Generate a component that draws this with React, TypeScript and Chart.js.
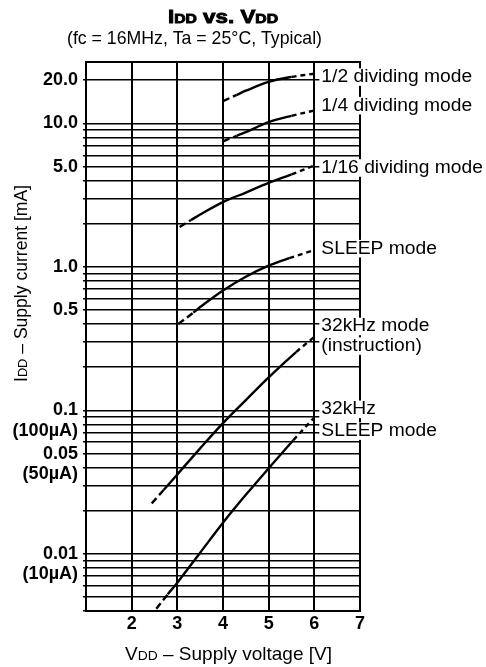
import React, { useEffect, useRef } from 'react';
import { Chart, registerables } from 'chart.js';

Chart.register(...registerables);

const FONT = '"Liberation Sans", Arial, Helvetica, sans-serif';

// Supply voltage VDD [V] and supply current IDD [mA]
const div2Voltage = [4.0, 4.3, 4.5, 5.0, 5.5, 6.0];
const div2Current = [14.3, 15.8, 16.9, 19.5, 21.1, 22.2];

const div4Voltage = [4.0, 4.3, 4.5, 5.0, 5.5, 6.0];
const div4Current = [7.5, 8.2, 8.7, 10.2, 11.3, 12.3];

const div16Voltage = [3.05, 3.3, 3.5, 4.0, 4.5, 5.0, 5.5, 6.0];
const div16Current = [1.9, 2.12, 2.32, 2.83, 3.3, 3.85, 4.41, 5.1];

const sleepVoltage = [3.02, 3.35, 3.5, 4.0, 4.5, 5.0, 5.45, 6.0];
const sleepCurrent = [0.4, 0.48, 0.525, 0.685, 0.855, 1.02, 1.15, 1.31];

const k32Voltage = [2.44, 2.7, 3.0, 3.5, 4.0, 4.5, 5.0, 5.6, 6.0];
const k32Current = [0.0225, 0.0279, 0.0358, 0.0544, 0.0815, 0.118, 0.17, 0.255, 0.325];

const k32SleepVoltage = [2.54, 2.79, 3.0, 3.5, 4.0, 4.5, 5.0, 5.54, 6.0];
const k32SleepCurrent = [0.00414, 0.00523, 0.0063, 0.0102, 0.0165, 0.0258, 0.0395, 0.062, 0.0893];

const seriesNames = [
  '1/2 dividing mode',
  '1/4 dividing mode',
  '1/16 dividing mode',
  'SLEEP mode',
  '32kHz mode (instruction)',
  '32kHz SLEEP mode',
];

// Curve labels (lines) and the current level each line sits at
const noteLines = [
  ['1/2 dividing mode'],
  ['1/4 dividing mode'],
  ['1/16 dividing mode'],
  ['SLEEP mode'],
  ['32kHz mode', '(instruction)'],
  ['32kHz', 'SLEEP mode'],
];
const noteCurrents = [[21.5], [13.6], [5.0], [1.37], [0.393, 0.287], [0.104, 0.0733]];
const noteVoltage = 6;

// Axes
const voltageMin = 1;
const voltageMax = 7;
const voltageTickLabels = ['', '2', '3', '4', '5', '6', '7'];
const currentMin = 0.004;
const currentMax = 26.8;
const currentLabelValues = [20, 10, 5, 1, 0.5, 0.1, 0.05, 0.01];
const currentLabelLines = [
  ['20.0'],
  ['10.0'],
  ['5.0'],
  ['1.0'],
  ['0.5'],
  ['0.1', '(100µA)'],
  ['0.05', '(50µA)'],
  ['0.01', '(10µA)'],
];

type Piece = { t: string; s: number; b?: boolean };

function fontOf(p: Piece) {
  return `${p.b ? 'bold ' : ''}${p.s}px ${FONT}`;
}

function drawRich(
  ctx: CanvasRenderingContext2D,
  pieces: Piece[],
  x: number,
  y: number,
  align: 'left' | 'center',
  targetWidth?: number,
  scaleX?: number,
  stroke?: number
) {
  ctx.save();
  ctx.textBaseline = 'alphabetic';
  ctx.textAlign = 'left';
  const widths = pieces.map((p) => {
    ctx.font = fontOf(p);
    return ctx.measureText(p.t).width;
  });
  const total = widths.reduce((a, b) => a + b, 0);
  const sx = targetWidth ? targetWidth / total : scaleX || 1;
  const w = total * sx;
  const start = align === 'center' ? x - w / 2 : x;
  ctx.translate(start, y);
  ctx.scale(sx, 1);
  let cx = 0;
  ctx.fillStyle = '#000';
  ctx.strokeStyle = '#000';
  pieces.forEach((p, i) => {
    ctx.font = fontOf(p);
    ctx.fillText(p.t, cx, 0);
    if (stroke) {
      ctx.lineWidth = stroke;
      ctx.strokeText(p.t, cx, 0);
    }
    cx += widths[i];
  });
  ctx.restore();
  return w;
}

const textPlugin = {
  id: 'textPlugin',
  afterDatasetsDraw(chart: any) {
    const ctx: CanvasRenderingContext2D = chart.ctx;
    const { left, top, right, bottom } = chart.chartArea;
    // frame
    ctx.save();
    ctx.strokeStyle = '#000';
    ctx.lineWidth = 2;
    ctx.strokeRect(left, top, right - left, bottom - top);
    ctx.restore();

    // curve labels with white backdrop
    const xs = chart.scales.x;
    const ys = chart.scales.y;
    const size = 17.5;
    const sx = 1.1;
    const lx = xs.getPixelForValue(noteVoltage) + 7;
    noteLines.forEach((lines, i) => {
      lines.forEach((line, j) => {
        const cy = ys.getPixelForValue(noteCurrents[i][j]);
        const base = cy + 0.358 * size;
        ctx.save();
        ctx.font = `${size}px ${FONT}`;
        const w = ctx.measureText(line).width * sx;
        ctx.fillStyle = '#fff';
        ctx.fillRect(lx - 2, base - 0.78 * size, w + 4, size * 1.0);
        ctx.restore();
        drawRich(ctx, [{ t: line, s: size }], lx, base, 'left', undefined, sx);
      });
    });
  },
  afterDraw(chart: any) {
    const ctx: CanvasRenderingContext2D = chart.ctx;
    const { left, right } = chart.chartArea;
    // title
    drawRich(
      ctx,
      [
        { t: 'I', s: 18.5, b: true },
        { t: 'DD', s: 13, b: true },
        { t: ' vs. V', s: 18.5, b: true },
        { t: 'DD', s: 13, b: true },
      ],
      (left + right) / 2,
      22.5,
      'center',
      110,
      undefined,
      0.9
    );
    drawRich(ctx, [{ t: '(fc = 16MHz, Ta = 25°C, Typical)', s: 18.5 }], 67, 43.5, 'left', 255);
    // x title
    drawRich(
      ctx,
      [
        { t: 'V', s: 18.5 },
        { t: 'DD', s: 13.5 },
        { t: ' – Supply voltage [V]', s: 18.5 },
      ],
      125,
      659.5,
      'left',
      207
    );
    // y title
    ctx.save();
    ctx.translate(26.5, 283.5);
    ctx.rotate(-Math.PI / 2);
    drawRich(
      ctx,
      [
        { t: 'I', s: 18.5 },
        { t: 'DD', s: 13.5 },
        { t: ' – Supply current [mA]', s: 18.5 },
      ],
      0,
      0,
      'center',
      197
    );
    ctx.restore();
  },
};

export default function App() {
  const ref = useRef<HTMLCanvasElement>(null);
  useEffect(() => {
    document.body.style.margin = '0';
    const canvas = ref.current!;
    const mk = (vs: number[], cs: number[]) => vs.map((v, i) => ({ x: v, y: cs[i] }));
    const series = [
      mk(div2Voltage, div2Current),
      mk(div4Voltage, div4Current),
      mk(div16Voltage, div16Current),
      mk(sleepVoltage, sleepCurrent),
      mk(k32Voltage, k32Current),
      mk(k32SleepVoltage, k32SleepCurrent),
    ];
    const datasets = series.map((pts, i) => ({
      label: seriesNames[i],
      data: pts,
      borderColor: '#000',
      borderWidth: 2.4,
      borderCapStyle: 'butt',
      pointRadius: 0,
      fill: false,
      tension: 0.35,
      segment: {
        borderDash: (c: any) =>
          c.p0DataIndex === 0 ? [7, 4] : c.p1DataIndex === pts.length - 1 ? [5, 4] : undefined,
      },
    }));

    const chart = new Chart(canvas, {
      type: 'line',
      data: { datasets } as any,
      options: {
        animation: false,
        responsive: false,
        devicePixelRatio: 1,
        layout: { padding: { left: 0, right: 126, top: 62, bottom: 0 } },
        plugins: {
          legend: { display: false },
          tooltip: { enabled: false },
          title: { display: false },
        },
        scales: {
          x: {
            type: 'linear',
            min: voltageMin,
            max: voltageMax,
            afterFit: (s: any) => {
              s.height = 56;
            },
            ticks: {
              stepSize: 1,
              autoSkip: false,
              maxRotation: 0,
              padding: 2,
              color: '#000',
              font: { family: FONT, size: 18, weight: 'bold' },
              callback: (v: any) => voltageTickLabels[Math.round(Number(v)) - voltageMin] ?? '',
            },
            grid: { color: '#000', lineWidth: 2, drawTicks: false },
            border: { display: true, color: '#000', width: 2 },
          },
          y: {
            type: 'logarithmic',
            min: currentMin,
            max: currentMax,
            afterFit: (s: any) => {
              s.width = 86;
            },
            afterBuildTicks: (s: any) => {
              const t: { value: number }[] = [];
              for (let e = -3; e <= 1; e++) {
                for (let k = 1; k <= 9; k++) {
                  const v = Number((k * Math.pow(10, e)).toPrecision(3));
                  if (v >= currentMin - 1e-9 && v <= currentMax) t.push({ value: v });
                }
              }
              s.ticks = t;
            },
            ticks: {
              autoSkip: false,
              padding: 5,
              color: '#000',
              font: { family: FONT, size: 18, weight: 'bold', lineHeight: 1.12 },
              callback: (value: any) => {
                const v = Number(value);
                const i = currentLabelValues.findIndex((c) => Math.abs(c - v) / c < 1e-6);
                if (i < 0) return '';
                const lines = currentLabelLines[i];
                return lines.length > 1 ? ['', ...lines] : lines[0];
              },
            },
            grid: { color: '#000', lineWidth: 1.5, drawTicks: true, tickLength: 3 },
            border: { display: true, color: '#000', width: 2 },
          },
        },
      } as any,
      plugins: [textPlugin],
    });
    return () => chart.destroy();
  }, []);
  return (
    <div style={{ width: 486, height: 667 }}>
      <canvas ref={ref} width={486} height={667} style={{ display: 'block' }} />
    </div>
  );
}
